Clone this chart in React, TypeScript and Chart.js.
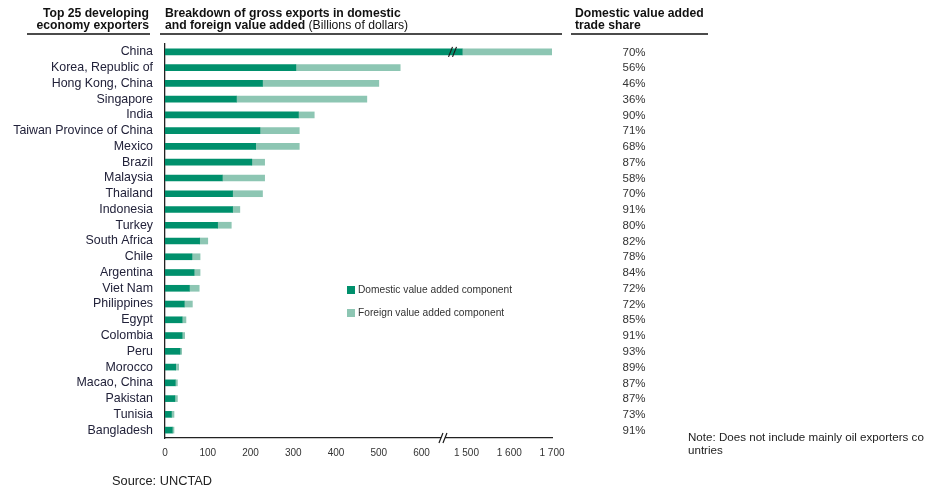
import React, { useEffect, useRef } from "react";
import { Chart, registerables } from "chart.js";

Chart.register(...registerables);

const countries = [
  "China", "Korea, Republic of", "Hong Kong, China", "Singapore", "India",
  "Taiwan Province of China", "Mexico", "Brazil", "Malaysia", "Thailand",
  "Indonesia", "Turkey", "South Africa", "Chile", "Argentina", "Viet Nam",
  "Philippines", "Egypt", "Colombia", "Peru", "Morocco", "Macao, China",
  "Pakistan", "Tunisia", "Bangladesh",
];
// Billions of dollars, as drawn on the broken axis
const domesticValues = [1490, 306, 228, 167, 312, 222, 212, 203, 134, 158, 158, 123, 81, 63, 68, 57, 45, 40, 40, 35, 25, 24, 23, 15, 17];
const foreignValues = [210, 244, 272, 305, 37, 92, 102, 30, 99, 70, 17, 32, 19, 19, 14, 23, 19, 9, 6, 4, 7, 5, 6, 6, 4];
const shares = ["70%", "56%", "46%", "36%", "90%", "71%", "68%", "87%", "58%", "70%", "91%", "80%", "82%", "78%", "84%", "72%", "72%", "85%", "91%", "93%", "89%", "87%", "87%", "73%", "91%"];
const xTickValues = [0, 100, 200, 300, 400, 500, 600, 1500, 1600, 1700];
const seriesLabels = ["Domestic value added component", "Foreign value added component"];

const BREAK_FROM = 650;
const BREAK_OFFSET = 795;
const toAxis = (v: number) => (v > BREAK_FROM ? v - BREAK_OFFSET : v);
const fromAxis = (v: number) => (v > BREAK_FROM ? v + BREAK_OFFSET : v);

const DOM_COLOR = "#00906c";
const FOR_COLOR = "#8dc6b3";
const FONT = "'Liberation Sans', Arial, sans-serif";

const fmt = (v: number) =>
  v >= 1000 ? `${Math.floor(v / 1000)} ${String(v % 1000).padStart(3, "0")}` : String(v);

function drawSlashes(ctx: CanvasRenderingContext2D, x: number, y: number, bg: string | null) {
  ctx.save();
  if (bg) {
    ctx.fillStyle = bg;
    ctx.beginPath();
    ctx.moveTo(x - 3, y + 5);
    ctx.lineTo(x + 1, y - 5);
    ctx.lineTo(x + 5, y - 5);
    ctx.lineTo(x + 1, y + 5);
    ctx.closePath();
    ctx.fill();
  }
  ctx.strokeStyle = "#1a1a1a";
  ctx.lineWidth = 1.2;
  ctx.beginPath();
  ctx.moveTo(x - 3, y + 5);
  ctx.lineTo(x + 1, y - 5);
  ctx.moveTo(x + 1, y + 5);
  ctx.lineTo(x + 5, y - 5);
  ctx.stroke();
  ctx.restore();
}

const overlayPlugin = {
  id: "overlay",
  afterDraw(chart: any) {
    const ctx: CanvasRenderingContext2D = chart.ctx;
    const xs = chart.scales.x;
    const ys = chart.scales.y;
    const area = chart.chartArea;
    ctx.save();
    // headers
    ctx.fillStyle = "#111";
    ctx.textBaseline = "middle";
    ctx.font = `bold 12.2px ${FONT}`;
    ctx.textAlign = "right";
    ctx.fillText("Top 25 developing", 149, 14);
    ctx.fillText("economy exporters", 149, 25.5);
    ctx.textAlign = "left";
    ctx.fillText("Breakdown of gross exports in domestic", 165, 14);
    const l2 = "and foreign value added";
    ctx.fillText(l2, 165, 25.5);
    const w2 = ctx.measureText(l2).width;
    ctx.font = `12.2px ${FONT}`;
    ctx.fillText(" (Billions of dollars)", 165 + w2, 25.5);
    ctx.font = `bold 12.2px ${FONT}`;
    ctx.fillText("Domestic value added", 575, 14);
    ctx.fillText("trade share", 575, 25.5);
    ctx.strokeStyle = "#111";
    ctx.lineWidth = 1.3;
    ctx.beginPath();
    ctx.moveTo(27, 34); ctx.lineTo(150, 34);
    ctx.moveTo(160, 34); ctx.lineTo(562, 34);
    ctx.moveTo(571, 34); ctx.lineTo(708, 34);
    ctx.stroke();

    // shares
    ctx.font = `11.5px ${FONT}`;
    ctx.fillStyle = "#333";
    ctx.textAlign = "center";
    shares.forEach((s, i) => ctx.fillText(s, 634, ys.getPixelForValue(i) + 0.5));

    // legend
    ctx.textAlign = "left";
    ctx.font = `10.2px ${FONT}`;
    const legendY = [290, 313];
    [DOM_COLOR, FOR_COLOR].forEach((c, i) => {
      ctx.fillStyle = c;
      ctx.fillRect(347, legendY[i] - 4, 8, 8);
      ctx.fillStyle = "#333";
      ctx.fillText(seriesLabels[i], 358, legendY[i]);
    });

    // breaks
    drawSlashes(ctx, xs.getPixelForValue(BREAK_FROM) - 1, area.bottom, "#fff");
    drawSlashes(ctx, xs.getPixelForValue(toAxis(domesticValues[0]) - 25), ys.getPixelForValue(0), null);

    // note & source
    ctx.fillStyle = "#222";
    ctx.font = `11.6px ${FONT}`;
    ctx.fillText("Note: Does not include mainly oil exporters co", 688, 438);
    ctx.fillText("untries", 688, 451);
    ctx.font = `12.8px ${FONT}`;
    ctx.fillText("Source: UNCTAD", 112, 481);
    ctx.restore();
  },
};

export default function App() {
  const ref = useRef<HTMLCanvasElement | null>(null);
  useEffect(() => {
    if (!ref.current) return;
    const domAxis = domesticValues.map(toAxis);
    const forAxis = domesticValues.map((d, i) => toAxis(d + foreignValues[i]) - toAxis(d));
    const chart = new Chart(ref.current, {
      type: "bar",
      data: {
        labels: countries,
        datasets: [
          { label: seriesLabels[0], data: domAxis, backgroundColor: DOM_COLOR, barThickness: 6 },
          { label: seriesLabels[1], data: forAxis, backgroundColor: FOR_COLOR, barThickness: 6 },
        ],
      },
      options: {
        indexAxis: "y",
        animation: false,
        responsive: true,
        maintainAspectRatio: false,
        layout: { padding: { left: 0, right: 387, top: 44, bottom: 0 } },
        plugins: { legend: { display: false }, tooltip: { enabled: false } },
        scales: {
          x: {
            type: "linear",
            stacked: true,
            min: 0,
            max: 905,
            grid: { display: false, drawTicks: false },
            border: { display: true, color: "#222", width: 1.3 },
            afterBuildTicks: (scale: any) => {
              scale.ticks = xTickValues.map((v) => ({ value: toAxis(v) }));
            },
            afterFit: (scale: any) => { scale.height = 52; },
            ticks: {
              padding: 9,
              color: "#333",
              font: { family: FONT, size: 10 },
              maxRotation: 0,
              autoSkip: false,
              callback: (value: any) => fmt(fromAxis(Number(value))),
            },
          },
          y: {
            stacked: true,
            grid: { display: false, drawTicks: false },
            border: { display: true, color: "#222", width: 1.3 },
            afterFit: (scale: any) => { scale.width = 165; },
            ticks: {
              padding: 12,
              color: "#22223a",
              font: { family: FONT, size: 12.4 },
              autoSkip: false,
            },
          },
        },
      },
      plugins: [overlayPlugin],
    });
    return () => chart.destroy();
  }, []);
  return (
    <div style={{ position: "absolute", left: 0, top: 0, width: 939, height: 490, background: "#fff" }}>
      <canvas ref={ref} />
    </div>
  );
}
